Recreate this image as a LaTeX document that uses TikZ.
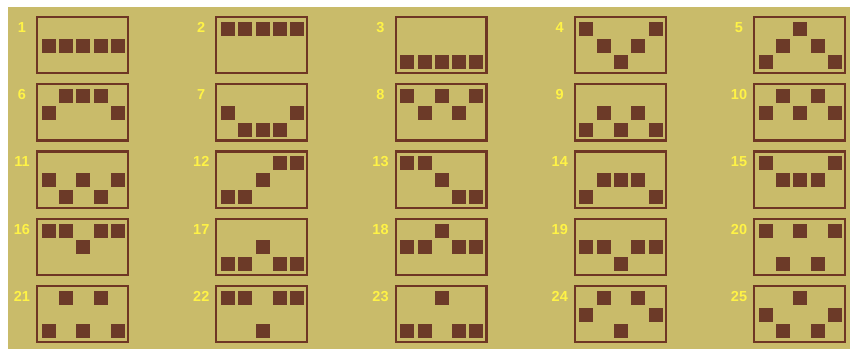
\documentclass[tikz,border=0pt]{standalone}
\usepackage{fontspec}
\setmainfont{Liberation Sans}
\definecolor{slotbg}{RGB}{201,187,106}
\definecolor{slotbrown}{RGB}{110,54,36}
\definecolor{slotcell}{RGB}{108,58,40}
\definecolor{slotyellow}{RGB}{255,243,70}
\tikzset{
  lbox/.style  = {draw=slotbrown, line width=2.2pt, minimum width=90.8pt,
                  minimum height=56.1pt, inner sep=0pt},
  lnum/.style  = {slotyellow, font=\fontsize{14.5}{14.5}\selectfont\bfseries, inner sep=0pt},
  lcell/.style = {fill=slotcell},
}

\begin{document}
\begin{tikzpicture}[x=1pt, y=-1pt]
\fill[white] (0,0) rectangle (850,349);
\fill[slotbg] (8,7) rectangle (850,349);
\useasboundingbox (0,0) rectangle (850,349);

% rows of the 5 reels: 1 = top, 2 = middle, 3 = bottom
\foreach \pat [count=\i] in {
  {2,2,2,2,2},{1,1,1,1,1},{3,3,3,3,3},{1,2,3,2,1},{3,2,1,2,3},
  {2,1,1,1,2},{2,3,3,3,2},{1,2,1,2,1},{3,2,3,2,3},{2,1,2,1,2},
  {2,3,2,3,2},{3,3,2,1,1},{1,1,2,3,3},{3,2,2,2,3},{1,2,2,2,1},
  {1,1,2,1,1},{3,3,2,3,3},{2,2,1,2,2},{2,2,3,2,2},{1,3,1,3,1},
  {3,1,3,1,3},{1,1,3,1,1},{3,3,1,3,3},{2,1,3,1,2},{2,3,1,3,2}} {
  \pgfmathsetmacro\bx{36+179.25*mod(\i-1,5)}
  \pgfmathsetmacro\by{16+67.2*div(\i-1,5)}
  \node[lbox] (box\i) at (\bx+46.5,\by+29.15) {};
  \node[lnum] (num\i) at (\bx-14,\by+11.5) {\i};
  \foreach \r [count=\c from 0] in \pat
    \fill[lcell] (\bx+5.7+17.3*\c,\by+6+16.7*\r-16.7) rectangle ++(14,14);
}
\end{tikzpicture}
\end{document}
